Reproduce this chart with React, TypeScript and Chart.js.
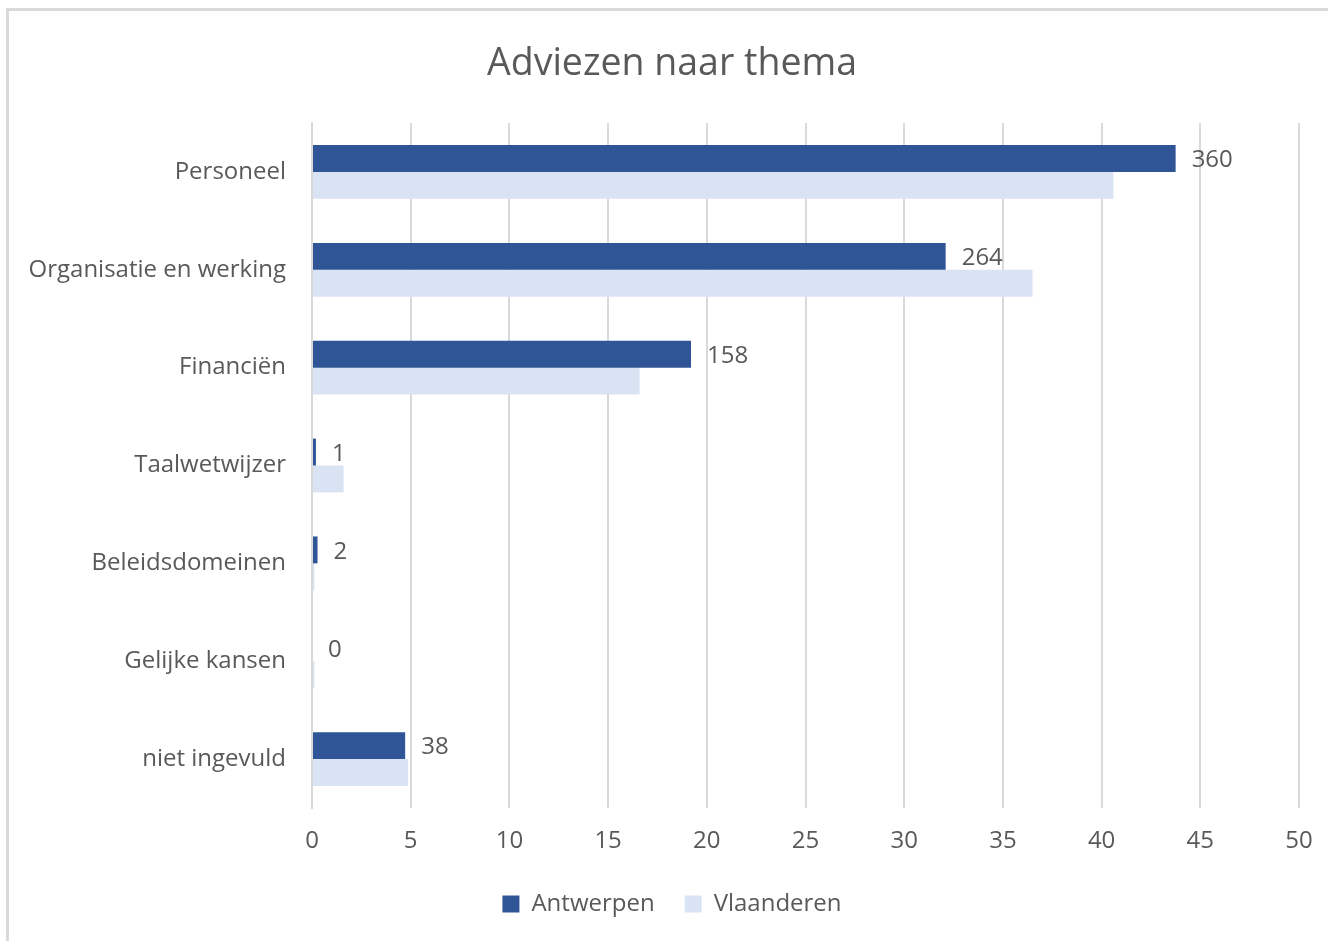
import React, { useEffect, useRef } from "react";
import { Chart, registerables } from "chart.js";

Chart.register(...registerables);

const categories = [
  "Personeel",
  "Organisatie en werking",
  "Financiën",
  "Taalwetwijzer",
  "Beleidsdomeinen",
  "Gelijke kansen",
  "niet ingevuld",
];
const antwerpenPct = [43.75, 32.1, 19.2, 0.2, 0.28, 0, 4.72];
const antwerpenCounts = [360, 264, 158, 1, 2, 0, 38];
const vlaanderenPct = [40.6, 36.5, 16.6, 1.6, 0.12, 0.12, 4.87];
const xTicks = [0, 5, 10, 15, 20, 25, 30, 35, 40, 45, 50];

const FONT = "'Open Sans', 'Noto Sans', sans-serif";
const TEXT = "#595959";
const GRID = "#d9d9d9";

const labelPlugin = {
  id: "countLabels",
  beforeDraw(chart: any) {
    // let long category labels extend past the axis box without clipping
    const y = chart.scales.y;
    if (y) y._computeLabelArea = () => undefined;
  },
  afterDatasetsDraw(chart: any) {
    const meta = chart.getDatasetMeta(0);
    const ctx = chart.ctx;
    ctx.save();
    ctx.font = `24px ${FONT}`;
    ctx.fillStyle = TEXT;
    ctx.textAlign = "left";
    ctx.textBaseline = "middle";
    meta.data.forEach((bar: any, i: number) => {
      ctx.fillText(String(antwerpenCounts[i]), bar.x + 16, bar.y + 2);
    });
    ctx.restore();
  },
};

export default function App() {
  const ref = useRef<HTMLCanvasElement | null>(null);
  useEffect(() => {
    if (!ref.current) return;
    const chart = new Chart(ref.current, {
      type: "bar",
      data: {
        labels: categories,
        datasets: [
          {
            label: "Antwerpen",
            data: antwerpenPct,
            backgroundColor: "#2F5597",
            barPercentage: 1,
            categoryPercentage: 0.55,
          },
          {
            label: "Vlaanderen",
            data: vlaanderenPct,
            backgroundColor: "#DAE3F3",
            barPercentage: 1,
            categoryPercentage: 0.55,
          },
        ],
      },
      options: {
        indexAxis: "y",
        animation: false,
        responsive: true,
        maintainAspectRatio: false,
        layout: { padding: { left: 36, right: 29, top: 0, bottom: 15 } },
        plugins: {
          title: {
            display: true,
            text: "Adviezen naar thema",
            color: TEXT,
            font: { family: FONT, size: 37.5, weight: "normal" },
            padding: { top: 31, bottom: 36 },
          },
          legend: {
            position: "bottom",
            labels: {
              color: TEXT,
              font: { family: FONT, size: 24 },
              boxWidth: 17,
              boxHeight: 17,
              padding: 30,
            },
          },
          tooltip: { enabled: false },
        },
        scales: {
          x: {
            min: 0,
            max: 50,
            afterBuildTicks(scale: any) {
              scale.ticks = xTicks.map((v) => ({ value: v }));
            },
            afterFit(scale: any) {
              scale.height = 54;
            },
            grid: {
              color: GRID,
              lineWidth: 2,
              drawTicks: true,
              tickLength: 11,
              tickColor: "rgba(0,0,0,0)",
            },
            border: { display: false },
            ticks: {
              color: TEXT,
              font: { family: FONT, size: 24 },
              padding: 8,
            },
          },
          y: {
            afterFit(scale: any) {
              scale.width = 267;
            },
            grid: { display: false, drawTicks: false },
            border: { display: true, color: GRID, width: 2 },
            ticks: {
              color: TEXT,
              font: { family: FONT, size: 24 },
              padding: 26,
            },
          },
        },
      },
      plugins: [labelPlugin],
    });
    return () => chart.destroy();
  }, []);

  return (
    <div>
      <div
        style={{
          position: "fixed",
          left: 6,
          top: 8,
          width: 1340,
          height: 960,
          border: "3px solid #d9d9d9",
          boxSizing: "border-box",
          background: "#fff",
        }}
      />
      <div
        style={{
          position: "fixed",
          left: 9,
          top: 11,
          width: 1319,
          height: 930,
        }}
      >
        <canvas ref={ref} />
      </div>
    </div>
  );
}
